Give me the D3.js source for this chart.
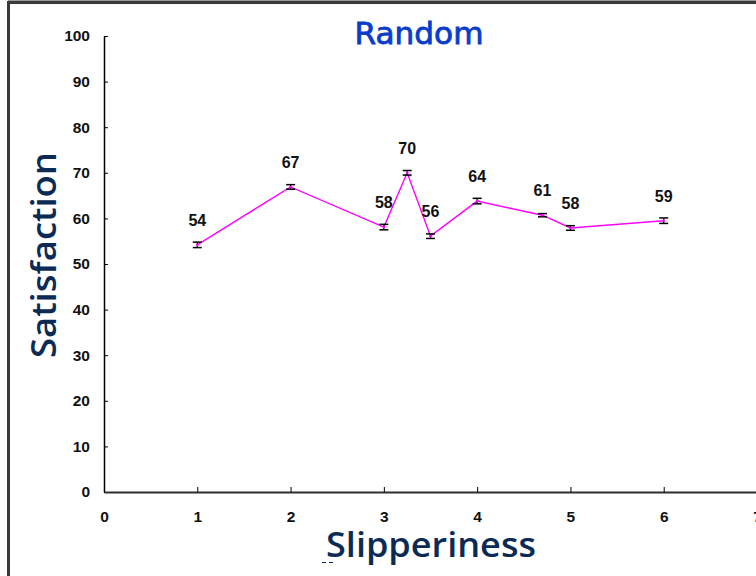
<!DOCTYPE html>
<html>
<head>
<meta charset="utf-8">
<script src="https://cdn.jsdelivr.net/npm/d3@7"></script>
<style>
  html, body { margin: 0; padding: 0; background: #fff; }
  svg { display: block; }
</style>
</head>
<body>
<svg id="chart" width="756" height="576"></svg>
<script>
const xValues = [1, 2, 3, 3.25, 3.5, 4, 4.7, 5, 6];
const satisfaction = [54.2, 66.9, 58.1, 70.0, 56.1, 63.8, 60.7, 57.9, 59.5];
const errors = [0.6, 0.5, 0.6, 0.5, 0.5, 0.6, 0.35, 0.5, 0.6];
const pointLabels = ["54", "67", "58", "70", "56", "64", "61", "58", "59"];
const xTicks = [0, 1, 2, 3, 4, 5, 6, 7];
const yTicks = [0, 10, 20, 30, 40, 50, 60, 70, 80, 90, 100];

const svg = d3.select("#chart");
const W = 756, H = 576;

// outer frame
svg.append("path")
  .attr("d", `M8.5,${H + 5} L8.5,2.5 L${W + 5},2.5`)
  .attr("fill", "none").attr("stroke", "#3a3a3a").attr("stroke-width", 3);
svg.append("line").attr("x1", 8).attr("x2", W).attr("y1", 0.5).attr("y2", 0.5)
  .attr("stroke", "#9a9a9a").attr("stroke-width", 1);

const x = d3.scaleLinear().domain([0, 7]).range([104, 757]);
const y = d3.scaleLinear().domain([0, 100]).range([492, 36]);

const tickFont = "'Liberation Sans', Arial, sans-serif";

// y axis
const yAxis = svg.append("g").attr("transform", `translate(${x(0)},0)`)
  .call(d3.axisLeft(y).tickValues(yTicks).tickFormat(d3.format("d"))
    .tickSize(-4).tickPadding(14).tickSizeOuter(0));
yAxis.select(".domain").attr("stroke", "#000").attr("stroke-width", 1.5);
yAxis.selectAll(".tick line").attr("stroke", "#000").attr("stroke-width", 1);
yAxis.selectAll(".tick text")
  .attr("font-family", tickFont).attr("font-weight", "bold").attr("font-size", 15.5)
  .attr("fill", "#111");

// x axis
const xAxis = svg.append("g").attr("transform", `translate(0,${y(0)})`)
  .call(d3.axisBottom(x).tickValues(xTicks).tickFormat(d3.format("d"))
    .tickSize(-5).tickPadding(19).tickSizeOuter(0));
xAxis.select(".domain").attr("stroke", "#2e2e2e").attr("stroke-width", 2);
xAxis.selectAll(".tick line").attr("stroke", "#000").attr("stroke-width", 1);
xAxis.selectAll(".tick line").filter(d => d === 0).remove();
xAxis.selectAll(".tick text")
  .attr("font-family", tickFont).attr("font-weight", "bold").attr("font-size", 15.5)
  .attr("fill", "#111");

const data = xValues.map((v, i) => ({ x: v, y: satisfaction[i], e: errors[i], label: pointLabels[i] }));

// line
svg.append("path").datum(data)
  .attr("fill", "none").attr("stroke", "#ff00ff").attr("stroke-width", 1.4)
  .attr("d", d3.line().x(d => x(d.x)).y(d => y(d.y)));

// error bars
const eb = svg.append("g").selectAll("g").data(data).join("g");
eb.append("line")
  .attr("x1", d => x(d.x)).attr("x2", d => x(d.x))
  .attr("y1", d => y(d.y + d.e)).attr("y2", d => y(d.y - d.e))
  .attr("stroke", "#000").attr("stroke-width", 1.2);
eb.append("line")
  .attr("x1", d => x(d.x) - 4.5).attr("x2", d => x(d.x) + 4.5)
  .attr("y1", d => y(d.y + d.e)).attr("y2", d => y(d.y + d.e))
  .attr("stroke", "#000").attr("stroke-width", 1.5);
eb.append("line")
  .attr("x1", d => x(d.x) - 4.5).attr("x2", d => x(d.x) + 4.5)
  .attr("y1", d => y(d.y - d.e)).attr("y2", d => y(d.y - d.e))
  .attr("stroke", "#000").attr("stroke-width", 1.5);
eb.append("circle")
  .attr("cx", d => x(d.x)).attr("cy", d => y(d.y)).attr("r", 1.3)
  .attr("fill", "#ff00ff");

// point labels
svg.append("g").selectAll("text").data(data).join("text")
  .attr("x", d => x(d.x)).attr("y", d => y(d.y) - 19)
  .attr("text-anchor", "middle")
  .attr("font-family", tickFont).attr("font-weight", "bold").attr("font-size", 16)
  .attr("fill", "#111")
  .text(d => d.label);

// title
svg.append("text")
  .attr("x", 419).attr("y", 44)
  .attr("text-anchor", "middle")
  .attr("font-family", "'DejaVu Sans', Verdana, sans-serif")
  .attr("font-size", 30).attr("fill", "#0a3ccc")
  .attr("stroke", "#0a3ccc").attr("stroke-width", 0.8)
  .attr("textLength", 129).attr("lengthAdjust", "spacingAndGlyphs")
  .text("Random");

// axis titles
svg.append("text")
  .attr("transform", "translate(56,255) rotate(-90)")
  .attr("text-anchor", "middle")
  .attr("font-family", "'Open Sans', sans-serif")
  .attr("font-size", 35).attr("font-weight", 600).attr("fill", "#0b2b55")
  .attr("textLength", 206).attr("lengthAdjust", "spacingAndGlyphs")
  .text("Satisfaction");

svg.append("text")
  .attr("x", 431).attr("y", 557)
  .attr("text-anchor", "middle")
  .attr("font-family", "'Open Sans', sans-serif")
  .attr("font-size", 34).attr("font-weight", 600).attr("fill", "#0b2b55")
  .attr("textLength", 210).attr("lengthAdjust", "spacingAndGlyphs")
  .text("Slipperiness");

// small stray dashes under the axis title
svg.append("path")
  .attr("d", "M322,562.5 L326,562.5 M329,562.5 L333,562.5")
  .attr("stroke", "#0b2b55").attr("stroke-width", 1);
</script>
</body>
</html>
